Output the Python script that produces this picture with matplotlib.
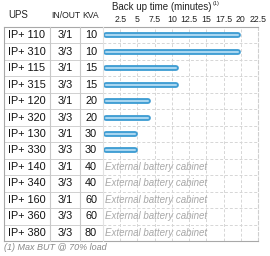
import matplotlib
matplotlib.use("Agg")
import matplotlib.pyplot as plt
from matplotlib.lines import Line2D
import matplotlib.transforms as mtransforms

# data
models = ["IP+ 110", "IP+ 310", "IP+ 115", "IP+ 315", "IP+ 120", "IP+ 320",
          "IP+ 130", "IP+ 330", "IP+ 140", "IP+ 340", "IP+ 160", "IP+ 360", "IP+ 380"]
in_out = ["3/1", "3/3", "3/1", "3/3", "3/1", "3/3", "3/1", "3/3",
          "3/1", "3/3", "3/1", "3/3", "3/3"]
kva = [10, 10, 15, 15, 20, 20, 30, 30, 40, 40, 60, 60, 80]
backup_min = [20, 20, 11, 11, 7, 7, 5, 5, None, None, None, None, None]
ticks = [2.5, 5, 7.5, 10, 12.5, 15, 17.5, 20, 22.5]
tick_labels = ["2.5", "5", "7.5", "10", "12.5", "15", "17.5", "20", "22.5"]

W, H = 270, 256
plt.rcParams['font.family'] = ['Liberation Sans Narrow', 'Liberation Sans', 'DejaVu Sans']

fig = plt.figure(figsize=(W / 100, H / 100), dpi=100)
fig.patch.set_facecolor('white')

def fx(px):
    return px / W

def fy(py):
    return 1 - py / H

top_px, bot_px = 27, 241
left_px, right_px = 103, 258
ax = fig.add_axes([fx(left_px), fy(bot_px), fx(right_px) - fx(left_px), fy(top_px) - fy(bot_px)])
n = len(models)
ax.set_xlim(0, 22.5)
ax.set_ylim(n - 0.5, -0.5)

# dashed grid
grid_c = '#d6d6d6'
for t in ticks[:-1]:
    ax.axvline(t, color=grid_c, lw=0.7, ls=(0, (3, 2)), zorder=0)
for i in range(n - 1):
    ax.axhline(i + 0.5, color=grid_c, lw=0.7, ls=(0, (3, 2)), zorder=0)

for s in ['left', 'bottom', 'top']:
    ax.spines[s].set_visible(False)
ax.spines['right'].set_color('#cfcfcf')
ax.spines['right'].set_linestyle((0, (3, 2)))
ax.spines['right'].set_linewidth(0.8)

ax.xaxis.tick_top()
ax.set_xticks(ticks)
ax.set_xticklabels(tick_labels, fontsize=6.3, color='#222222')
ax.tick_params(axis='x', length=0, pad=2.5)
ax.set_yticks([])

# bars
for i, v in enumerate(backup_min):
    if v is None:
        ax.text(0.35, i, "External battery cabinet", fontsize=7, style='italic',
                color='#a8a8a8', va='center', ha='left')
        continue
    ax.plot([0.4, v - 0.4], [i, i], color='#3f9dd3', lw=4.2,
            solid_capstyle='round', zorder=3)
    ax.plot([0.4, v - 0.4], [i, i], color='#a9d6f0', lw=1.5,
            solid_capstyle='round', zorder=4)

# table text (x in figure px, y in data rows)
trans = mtransforms.blended_transform_factory(fig.transFigure, ax.transData)
for i in range(n):
    ax.text(fx(8), i, models[i], transform=trans, fontsize=7.8, va='center',
            ha='left', color='#111111', clip_on=False)
    ax.text(fx(65), i, in_out[i], transform=trans, fontsize=7.8, va='center',
            ha='center', color='#111111', clip_on=False)
    ax.text(fx(91), i, str(kva[i]), transform=trans, fontsize=7.8, va='center',
            ha='center', color='#111111', clip_on=False)

# table lines
def hline(y, x0, x1, c, lw=0.8):
    fig.add_artist(Line2D([fx(x0), fx(x1)], [fy(y), fy(y)], color=c, lw=lw))

def vline(x, y0, y1, c, lw=0.8):
    fig.add_artist(Line2D([fx(x), fx(x)], [fy(y0), fy(y1)], color=c, lw=lw))

hline(top_px, 4, right_px, '#a8a8a8')
hline(bot_px, 4, right_px, '#a8a8a8')
row_h = (bot_px - top_px) / n
for i in range(1, n):
    hline(top_px + i * row_h, 4, left_px, '#d0d0d0', lw=0.7)
vline(4, top_px, bot_px, '#a8a8a8')
vline(50, top_px, bot_px, '#c8c8c8')
vline(80, top_px, bot_px, '#c8c8c8')
vline(left_px, top_px, bot_px, '#e2e2e2')

# headers
fig.text(fx(8), fy(15), "UPS", fontsize=7, va='center', ha='left', color='#222222')
fig.text(fx(51), fy(15), "IN/OUT", fontsize=6.2, va='center', ha='left', color='#222222')
fig.text(fx(82.5), fy(15), "KVA", fontsize=6.2, va='center', ha='left', color='#222222')
title = fig.text(fx(112), fy(7), "Back up time (minutes)", fontsize=7, va='center',
                 ha='left', color='#222222')
ax.annotate("(1)", xy=(1, 0.55), xycoords=title, xytext=(0.5, 0),
            textcoords='offset points', fontsize=4, va='bottom', ha='left',
            color='#222222', annotation_clip=False)

fig.text(fx(4), fy(248), "(1) Max BUT @ 70% load", fontsize=6.5, style='italic',
         va='center', ha='left', color='#888888')

fig.savefig("out.png", dpi=100, facecolor='white')
